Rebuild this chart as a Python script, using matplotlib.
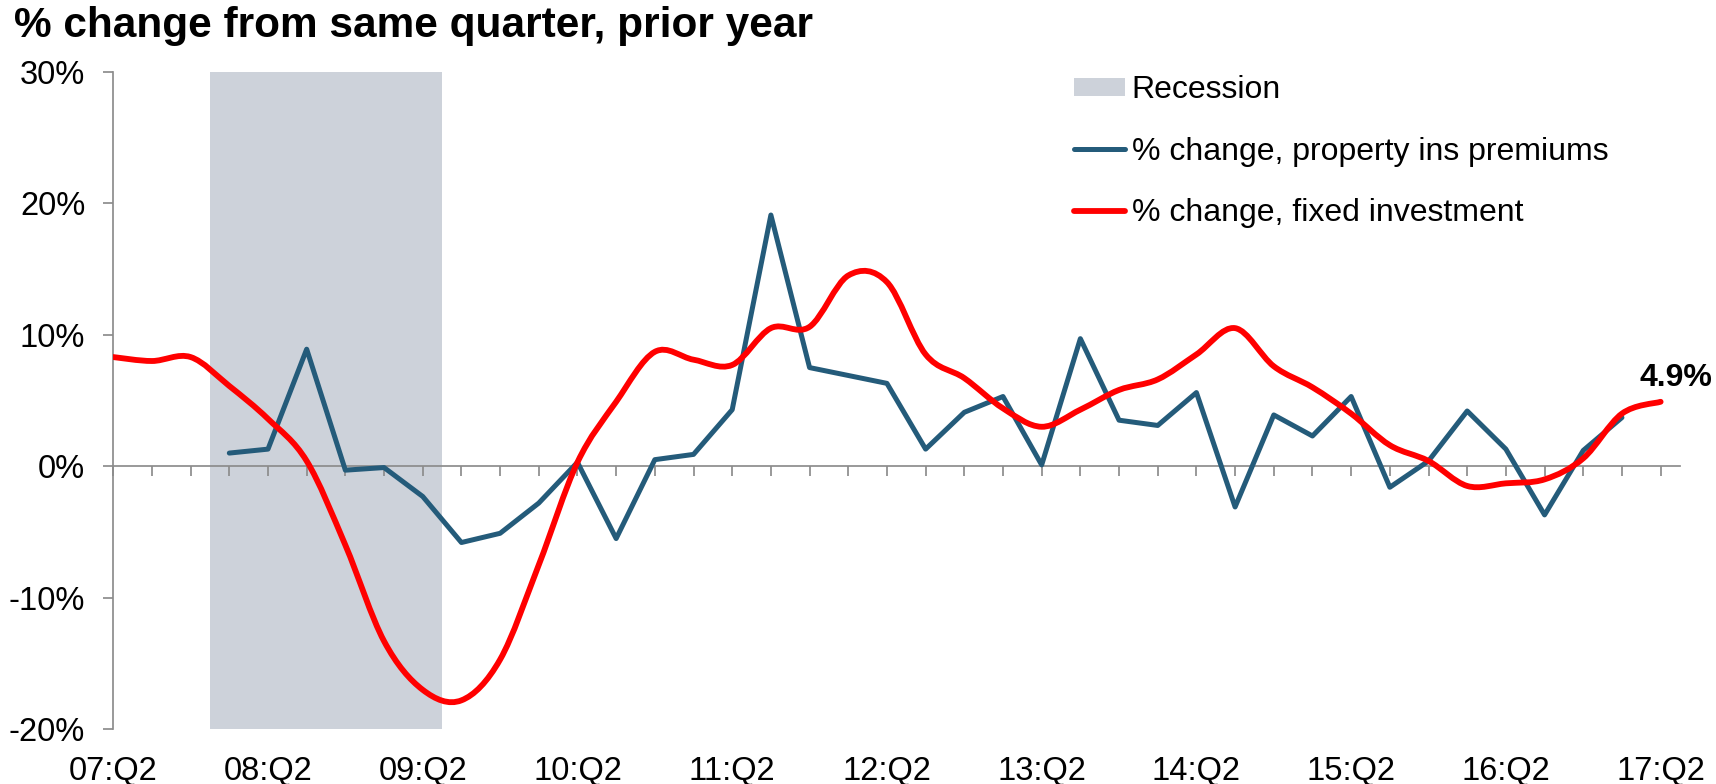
import numpy as np
import matplotlib
matplotlib.use("Agg")
import matplotlib.pyplot as plt
from matplotlib.path import Path
from matplotlib.patches import PathPatch, Patch
from matplotlib.lines import Line2D

plt.rcParams['font.family'] = ['Liberation Sans', 'DejaVu Sans']

# quarterly series, 07:Q2 .. 17:Q2 (41 quarters)
tick_labels = ["07:Q2", "08:Q2", "09:Q2", "10:Q2", "11:Q2", "12:Q2",
               "13:Q2", "14:Q2", "15:Q2", "16:Q2", "17:Q2"]

# % change, fixed investment
fixed_inv = [8.3, 8.0, 8.3, 6.1, 3.6, 0.4, -6.0, -13.3, -17.0, -17.8, -14.7,
             -7.5, 0.3, 4.9, 8.7, 8.1, 7.7, 10.5, 10.6, 14.5, 14.0, 8.5,
             6.7, 4.4, 3.0, 4.3, 5.8, 6.6, 8.5, 10.5, 7.6, 6.0, 4.0, 1.6,
             0.4, -1.5, -1.3, -1.0, 0.6, 4.0, 4.9]

# % change, property ins premiums (08:Q1 .. 17:Q1)
prop_prem = [None, None, None,
             1.0, 1.3, 8.9, -0.3, -0.1, -2.3, -5.8, -5.1, -2.8, 0.3, -5.5,
             0.5, 0.9, 4.3, 19.1, 7.5, 6.9, 6.3, 1.3, 4.1, 5.3, 0.1, 9.7,
             3.5, 3.1, 5.6, -3.1, 3.9, 2.3, 5.3, -1.6, 0.4, 4.2, 1.3, -3.7,
             1.2, 3.7,
             None]

# recession: 07:Q4 .. 09:Q2
recession = (2, 8)

BLUE = '#245B7A'
RED = '#FF0000'
SHADE = '#CDD2DA'
AXIS = '#8C8C8C'


def smooth_path(x, y):
    # Bezier curve through every point (Catmull-Rom style control points)
    n = len(x)
    verts = [(x[0], y[0])]
    codes = [Path.MOVETO]
    for i in range(n - 1):
        xp, yp = (x[i - 1], y[i - 1]) if i > 0 else (x[i], y[i])
        xn, yn = (x[i + 2], y[i + 2]) if i + 2 < n else (x[i + 1], y[i + 1])
        c1 = (x[i] + (x[i + 1] - xp) / 6, y[i] + (y[i + 1] - yp) / 6)
        c2 = (x[i + 1] - (xn - x[i]) / 6, y[i + 1] - (yn - y[i]) / 6)
        verts += [c1, c2, (x[i + 1], y[i + 1])]
        codes += [Path.CURVE4] * 3
    return Path(verts, codes)


x = np.arange(len(fixed_inv))
red = np.array(fixed_inv, dtype=float)
blue = np.array([np.nan if v is None else v for v in prop_prem], dtype=float)

fig = plt.figure(figsize=(17.16, 7.84), dpi=100)
ax = fig.add_axes([0.066, 0.0698, 0.913, 0.8388])

ax.axvspan(recession[0] + 0.5, recession[1] + 0.5, color=SHADE, lw=0, zorder=1)

blue_line, = ax.plot(x, blue, color=BLUE, lw=3.6, solid_capstyle='round',
                     solid_joinstyle='round', zorder=3)

ax.add_patch(PathPatch(smooth_path(x, red), fill=False, edgecolor=RED, lw=4.2,
                       capstyle='round', joinstyle='round', zorder=4))

ax.annotate(f"{fixed_inv[-1]}%", xy=(x[-1], red[-1]), xytext=(11, 17),
            textcoords='offset points', ha='center', va='center',
            fontsize=23, fontweight='bold', annotation_clip=False)

ax.set_xlim(0, 40.5)
ax.set_ylim(-20, 30)
ax.set_yticks([-20, -10, 0, 10, 20, 30])
ax.set_yticklabels([f"{v}%" for v in [-20, -10, 0, 10, 20, 30]])

for s in ['top', 'right']:
    ax.spines[s].set_visible(False)
ax.spines['left'].set_color(AXIS)
ax.spines['left'].set_linewidth(1.25)
ax.spines['bottom'].set_position(('data', 0))
ax.spines['bottom'].set_color(AXIS)
ax.spines['bottom'].set_linewidth(1.25)

ax.set_xticks(x)
ax.tick_params(axis='x', direction='out', length=7.2, width=1.25,
               color=AXIS, labelbottom=False)
ax.tick_params(axis='y', direction='out', length=7.2, width=1.25,
               color=AXIS, labelsize=23.5, pad=13)

# quarter labels along the bottom edge
sec = ax.secondary_xaxis('bottom')
sec.set_xticks(x[::4], tick_labels)
sec.tick_params(length=0, labelsize=23.5, pad=19)
sec.spines['bottom'].set_visible(False)

handles = [Patch(facecolor=SHADE, edgecolor='none'),
           blue_line,
           Line2D([], [], color=RED, lw=4.2, solid_capstyle='round')]
labels = ["Recession", "% change, property ins premiums",
          "% change, fixed investment"]
fig.legend(handles, labels, loc='upper left',
           bbox_to_anchor=(1074 / 1716, 1 - 75 / 784),
           bbox_transform=fig.transFigure, frameon=False, fontsize=23,
           borderpad=0, borderaxespad=0, handlelength=1.6,
           handleheight=0.5, handletextpad=0.2, labelspacing=0.99)

fig.text(14 / 1716, 1 - 37 / 784, "% change from same quarter, prior year",
         fontsize=30.5, fontweight='bold', va='baseline', ha='left')

fig.savefig("out.png", dpi=100)
